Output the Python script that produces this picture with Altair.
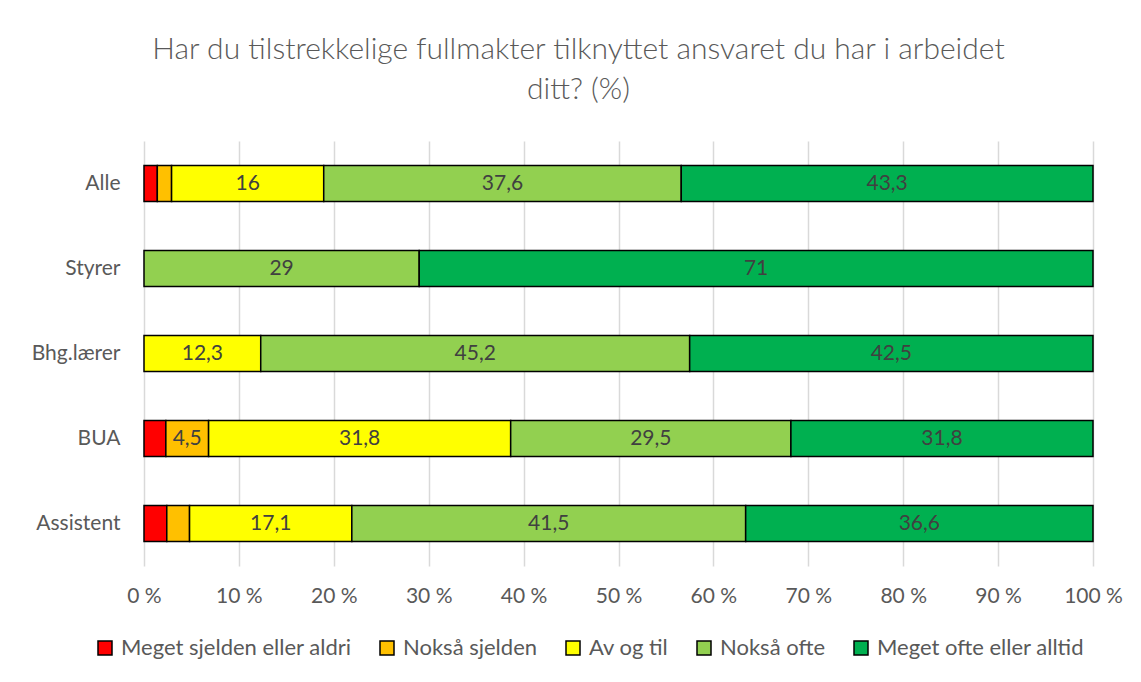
import altair as alt
import pandas as pd

categories = ["Alle", "Styrer", "Bhg.lærer", "BUA", "Assistent"]
series = ["Meget sjelden eller aldri", "Nokså sjelden", "Av og til", "Nokså ofte", "Meget ofte eller alltid"]
colors = ["#FF0000", "#FFC000", "#FFFF00", "#92D050", "#00B050"]

meget_sjelden = [1.4, 0, 0, 2.3, 2.4]
noksa_sjelden = [1.5, 0, 0, 4.5, 2.4]
av_og_til = [16, 0, 12.3, 31.8, 17.1]
noksa_ofte = [37.6, 29, 45.2, 29.5, 41.5]
meget_ofte = [43.3, 71, 42.5, 31.8, 36.6]

values = [meget_sjelden, noksa_sjelden, av_og_til, noksa_ofte, meget_ofte]
rows = []
for si, (s, vals) in enumerate(zip(series, values)):
    for c, v in zip(categories, vals):
        rows.append({"cat": c, "series": s, "order": si, "value": v})
df = pd.DataFrame(rows)

FONT = "Lato"

base = (
    alt.Chart(df)
    .transform_filter("datum.value > 0")
    .transform_stack(stack="value", as_=["x0", "x1"], groupby=["cat"],
                     sort=[alt.SortField("order")], offset="normalize")
    .transform_calculate(mid="(datum.x0 + datum.x1) / 2",
                         label="replace(format(datum.value, '.1~f'), '.', ',')")
)

y_enc = alt.Y("cat:N", sort=categories, title=None,
              scale=alt.Scale(paddingInner=0.576, paddingOuter=0.288),
              axis=alt.Axis(domain=False, ticks=False, labelFontSize=21, labelColor="#595959",
                            labelFont=FONT, labelPadding=24, grid=False))

bars = base.mark_bar(stroke="black", strokeWidth=1.5).encode(
    x=alt.X("x0:Q", scale=alt.Scale(domain=[0, 1]), title=None,
            axis=alt.Axis(values=[i / 10 for i in range(11)], labelExpr="round(datum.value*100) + ' %'",
                          domain=False, ticks=False, labelFontSize=21, labelColor="#595959",
                          labelFont=FONT, labelPadding=19, labelFlush=False, grid=True,
                          gridColor="#d9d9d9", gridWidth=1.5)),
    x2="x1:Q",
    y=y_enc,
    color=alt.Color("series:N", scale=alt.Scale(domain=series, range=colors),
                    legend=alt.Legend(title=None, orient="none", legendX=-50, legendY=496,
                                      direction="horizontal", symbolType="square",
                                      symbolSize=196, symbolStrokeColor="black",
                                      symbolStrokeWidth=1.5, labelFontSize=22,
                                      labelColor="#595959", labelFont=FONT,
                                      labelLimit=400, columnPadding=24, labelOffset=5)),
    order=alt.Order("order:Q"),
)

texts = base.transform_filter("datum.value >= 4").mark_text(
    fontSize=21, color="#404040", font=FONT
).encode(
    x=alt.X("mid:Q"),
    y=alt.Y("cat:N", sort=categories),
    text="label:N",
)

chart = (
    alt.layer(bars, texts)
    .properties(
        width=949,
        height=425,
        autosize=alt.AutoSizeParams(type="none"),
        padding={"left": 136, "top": 133, "right": 40, "bottom": 108},
        title=alt.TitleParams(
            text=["Har du tilstrekkelige fullmakter tilknyttet ansvaret du har i arbeidet", "ditt? (%)"],
            fontSize=30, font=FONT, fontWeight=300, color="#595959",
            anchor="middle", dx=-40, lineHeight=40, offset=36,
        ),
    )
    .configure_view(stroke=None)
)

chart.save("out.html", embed_options={"renderer": "svg", "actions": False})
